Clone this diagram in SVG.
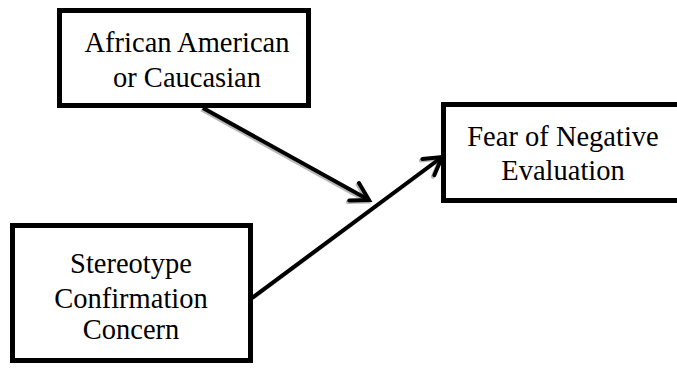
<svg xmlns="http://www.w3.org/2000/svg" width="677" height="371" viewBox="0 0 677 371">
<style>
.box{fill:#fff;stroke:#000;stroke-width:5}
.lbl{font-family:'Liberation Serif','Times New Roman',serif;font-size:28.5px;fill:#000;text-anchor:middle}
.edge{fill:none;stroke:#000;stroke-width:4}
.shadow{fill:none;stroke:#b8b8b8;stroke-width:4}
</style>
<defs>
<marker id="ah" markerUnits="userSpaceOnUse" viewBox="-22 -14 26 28" refX="0" refY="0" markerWidth="26" markerHeight="28" orient="auto">
<path d="M -17 -10 L 0 0 L -17 10" fill="none" stroke="#000" stroke-width="4" stroke-linecap="round" stroke-linejoin="miter"/>
</marker>
<marker id="ahs" markerUnits="userSpaceOnUse" viewBox="-22 -14 26 28" refX="0" refY="0" markerWidth="26" markerHeight="28" orient="auto">
<path d="M -17 -10 L 0 0 L -17 10" fill="none" stroke="#b8b8b8" stroke-width="4" stroke-linecap="round"/>
</marker>
</defs>
<rect width="677" height="371" fill="#fff"/>
<g id="connectors">
<g transform="translate(-1.5,1.5)">
<path class="shadow" d="M 203 108 L 369 200" marker-end="url(#ahs)"/>
<path class="shadow" d="M 252 298 L 442 157" marker-end="url(#ahs)"/>
</g>
<path class="edge" d="M 203 108 L 369 200" marker-end="url(#ah)"/>
<path class="edge" d="M 252 298 L 442 157" marker-end="url(#ah)"/>
</g>
<g id="node-race">
<rect class="box" x="59.5" y="10.5" width="249" height="95"/>
<text class="lbl" x="187" y="52">African American</text>
<text class="lbl" x="187" y="86.5">or Caucasian</text>
</g>
<g id="node-fne">
<rect class="box" x="443.5" y="104.5" width="245" height="96"/>
<text class="lbl" x="563" y="145.5">Fear of Negative</text>
<text class="lbl" x="563" y="180">Evaluation</text>
</g>
<g id="node-scc">
<rect class="box" x="12.5" y="225.5" width="238" height="135"/>
<text class="lbl" x="131" y="273">Stereotype</text>
<text class="lbl" x="131" y="308">Confirmation</text>
<text class="lbl" x="131" y="339">Concern</text>
</g>
</svg>
